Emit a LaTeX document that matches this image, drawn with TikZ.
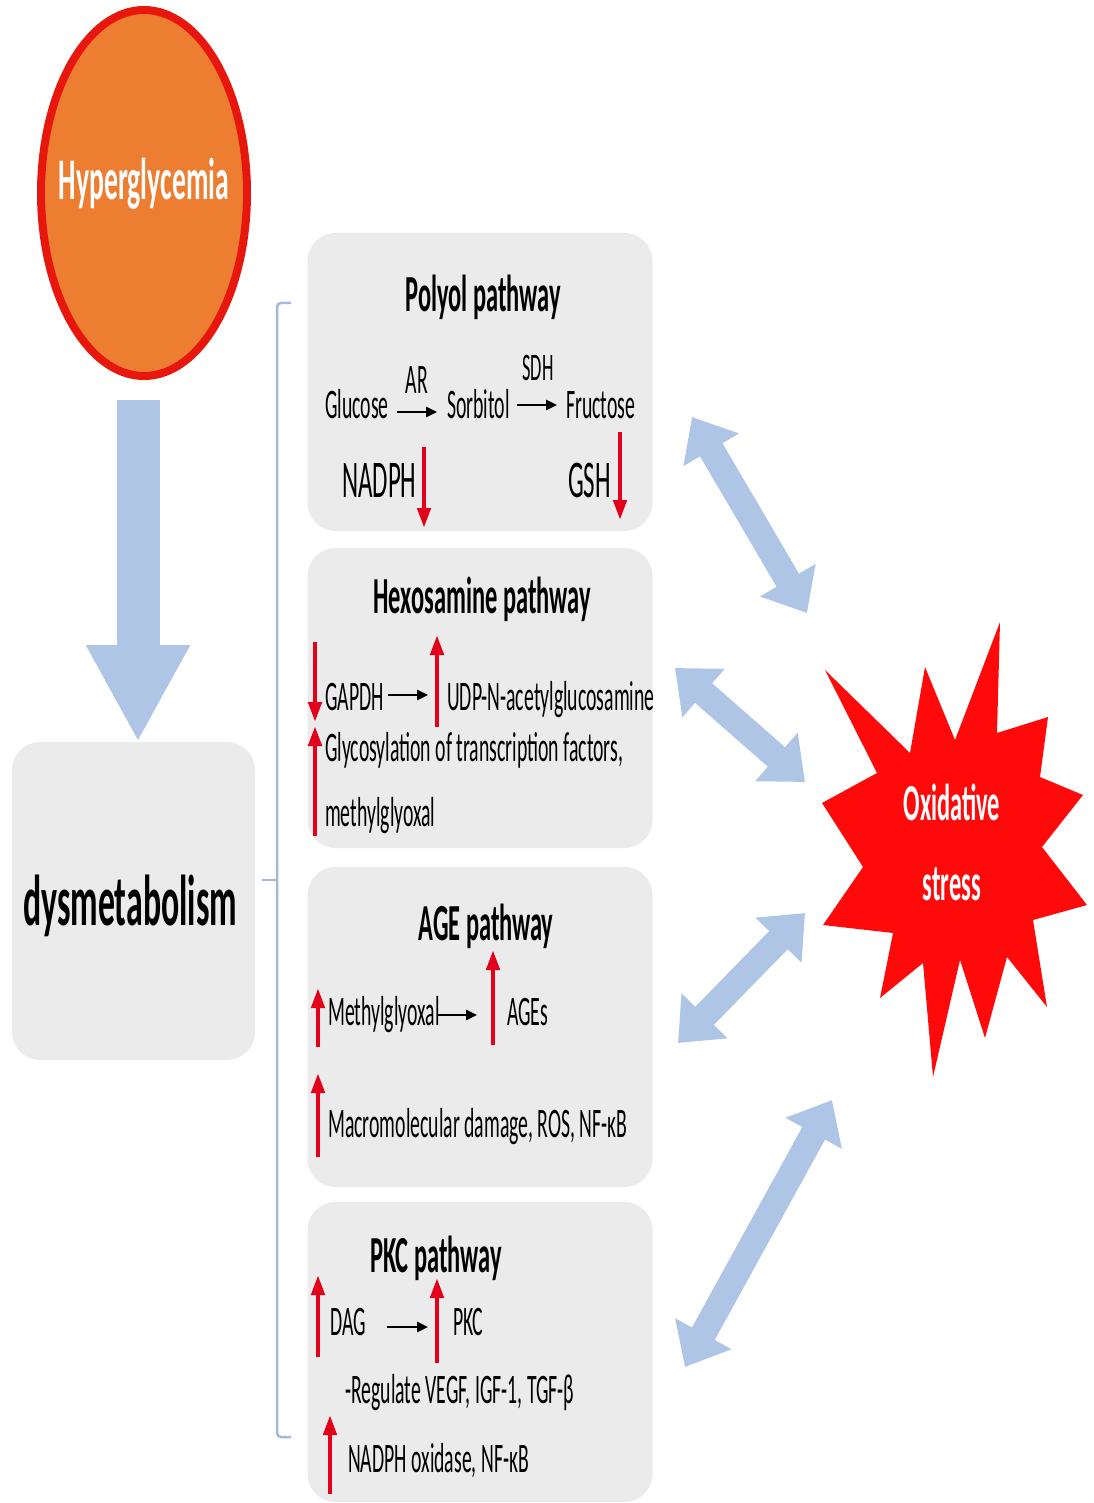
\documentclass[tikz,border=0pt]{standalone}
\usepackage{fontspec}
\setmainfont{Carlito}[FakeStretch=0.47]
\usetikzlibrary{shapes.geometric,arrows.meta}
\definecolor{hyorange}{HTML}{ED7D31}
\definecolor{hyred}{HTML}{E8170E}
\definecolor{arrblue}{HTML}{AFC5E6}
\definecolor{boxgray}{HTML}{EBEBEB}
\definecolor{upred}{HTML}{E2001A}
\definecolor{starred}{HTML}{FF0A0A}
\definecolor{brk}{HTML}{A3B8DA}
\tikzset{
  pbox/.style={rectangle, rounded corners=28pt, fill=boxgray, draw=none, minimum width=345pt, inner sep=0pt},
  ttl/.style={anchor=base, inner sep=0pt, font=\fontsize{52}{52}\selectfont\bfseries},
  txt/.style={anchor=base west, inner sep=0pt, font=\fontsize{42}{42}\selectfont},
  big/.style={anchor=base west, inner sep=0pt, font=\fontsize{53}{53}\selectfont},
  redarr/.style={draw=upred, line width=4.5pt, -{Triangle[length=20pt,width=13pt]}},
  blkarr/.style={draw=black, line width=2.5pt, -{Triangle[length=11pt,width=10pt]}},
  dblarr/.style={draw=arrblue, line width=26pt, {Triangle[length=38pt,width=62pt]}-{Triangle[length=38pt,width=62pt]}},
}
\begin{document}
\begin{tikzpicture}[x=1pt,y=-1pt]
\useasboundingbox (0,0) rectangle (1093,1503);

% Hyperglycemia
\node[ellipse, draw=hyred, line width=8pt, fill=hyorange, minimum width=206pt, minimum height=366pt, inner sep=0pt] (hyper) at (144,193) {};
\node[inner sep=0pt, anchor=base, text=white, font=\fontsize{59}{59}\selectfont\bfseries] (hypertxt) at (144,200) {Hyperglycemia};

% dysmetabolism
\node[rectangle, rounded corners=28pt, fill=boxgray, minimum width=243pt, minimum height=318pt, inner sep=0pt] (dys) at (133.5,901) {};
\node[inner sep=0pt, anchor=base, font=\fontsize{72}{72}\selectfont\bfseries] (dystxt) at (130,925) {dysmetabolism};

% down arrow
\coordinate (dstart) at (138,400);
\coordinate (dend) at (138,742);
\draw[draw=arrblue, line width=43pt, -{Triangle[length=97pt,width=97pt]}] (dstart) -- (dend);

% bracket
\coordinate (bt) at (291,303);
\coordinate (bb) at (291,1437);
\coordinate (bm) at (262,880);
\draw[brk, line width=2.5pt, rounded corners=4pt] (bt) -| (277,880) |- (bb);
\draw[brk, line width=2.5pt] (277,880) -- (bm);

% pathway boxes
\node[pbox, minimum height=298pt] (polyol) at (480,382) {};
\node[pbox, minimum height=300pt] (hexo) at (480,698) {};
\node[pbox, minimum height=320pt] (age) at (480,1027) {};
\node[pbox, minimum height=300pt] (pkc) at (480,1352) {};

% Polyol
\node[ttl] (t1) at (483,312) {Polyol pathway};
\node[txt] (glu) at (325,418) {Glucose};
\node[txt, anchor=base] (ar) at (417,393) {AR};
\node[txt] (sor) at (447,418) {Sorbitol};
\node[txt, anchor=base, font=\fontsize{39}{39}\selectfont] (sdh) at (538,380) {SDH};
\node[txt] (fru) at (566,418) {Fructose};
\draw[blkarr] (397,412) coordinate (a1s) -- (437,412) coordinate (a1e);
\draw[blkarr] (517,405) coordinate (a2s) -- (557,405) coordinate (a2e);
\node[big] (nadph) at (342,497) {NADPH};
\node[big] (gsh) at (568,497) {GSH};
\draw[redarr] (424,447) coordinate (r1s) -- (424,528) coordinate (r1e);
\draw[redarr] (620,432) coordinate (r2s) -- (620,520) coordinate (r2e);

% Hexosamine
\node[ttl] (t2) at (482,613) {Hexosamine pathway};
\node[txt] (gapdh) at (325,710) {GAPDH};
\node[txt] (udp) at (447,710) {UDP-N-acetylglucosamine};
\draw[blkarr] (388,695) coordinate (a3s) -- (428,695) coordinate (a3e);
\draw[redarr] (315,642) coordinate (r3s) -- (315,722) coordinate (r3e);
\draw[redarr] (437,727) coordinate (r4s) -- (437,635) coordinate (r4e);
\node[txt] (glyc) at (325,761) {Glycosylation of transcription factors,};
\node[txt] (mgo) at (325,826) {methylglyoxal};
\draw[redarr] (315,836) coordinate (r5s) -- (315,726) coordinate (r5e);

% AGE
\node[ttl] (t3) at (486,940) {AGE pathway};
\node[txt] (meth) at (328,1025) {Methylglyoxal};
\draw[blkarr] (438,1015) coordinate (a4s) -- (477,1015) coordinate (a4e);
\node[txt] (ages) at (507,1025) {AGEs};
\node[txt] (macro) at (328,1137) {Macromolecular damage, ROS, NF-κB};
\draw[redarr] (318,1047) coordinate (r6s) -- (318,988) coordinate (r6e);
\draw[redarr] (493,1045) coordinate (r7s) -- (493,950) coordinate (r7e);
\draw[redarr] (318,1157) coordinate (r8s) -- (318,1073) coordinate (r8e);

% PKC
\node[ttl] (t4) at (436,1272) {PKC pathway};
\node[txt] (dag) at (330,1335) {DAG};
\draw[blkarr] (387,1327) coordinate (a5s) -- (428,1327) coordinate (a5e);
\node[txt] (pkct) at (453,1335) {PKC};
\node[txt] (reg) at (345,1403) {-Regulate VEGF, IGF-1, TGF-β};
\node[txt] (nox) at (348,1472) {NADPH oxidase, NF-κB};
\draw[redarr] (318,1357) coordinate (r9s) -- (318,1275) coordinate (r9e);
\draw[redarr] (437,1363) coordinate (r10s) -- (437,1278) coordinate (r10e);
\draw[redarr] (330,1494) coordinate (r11s) -- (330,1415) coordinate (r11e);

% star
\fill[starred] (825,670) -- (910,753) -- (925,667) -- (955,740) -- (1000,622) -- (997,733) -- (1048,717) -- (1040,777) -- (1083,795) -- (1042,847) -- (1087,905) -- (1033,920) -- (1047,1007) -- (1007,957) -- (985,1038) -- (960,960) -- (933,1077) -- (923,963) -- (880,998) -- (893,933) -- (823,925) -- (863,867) -- (822,803) -- (877,773) -- cycle;
\node[inner sep=0pt, align=center, text=white, font=\fontsize{52}{80}\selectfont\bfseries] (ox) at (952,842) {Oxidative\\stress};

% double arrows
\coordinate (d1a) at (692,417); \coordinate (d1b) at (807,613);
\coordinate (d2a) at (675,668); \coordinate (d2b) at (805,782);
\coordinate (d3a) at (678,1043); \coordinate (d3b) at (805,913);
\coordinate (d4a) at (685,1367); \coordinate (d4b) at (832,1100);
\draw[dblarr] (d1a) -- (d1b);
\draw[dblarr] (d2a) -- (d2b);
\draw[dblarr] (d3a) -- (d3b);
\draw[dblarr] (d4a) -- (d4b);
\end{tikzpicture}
\end{document}
